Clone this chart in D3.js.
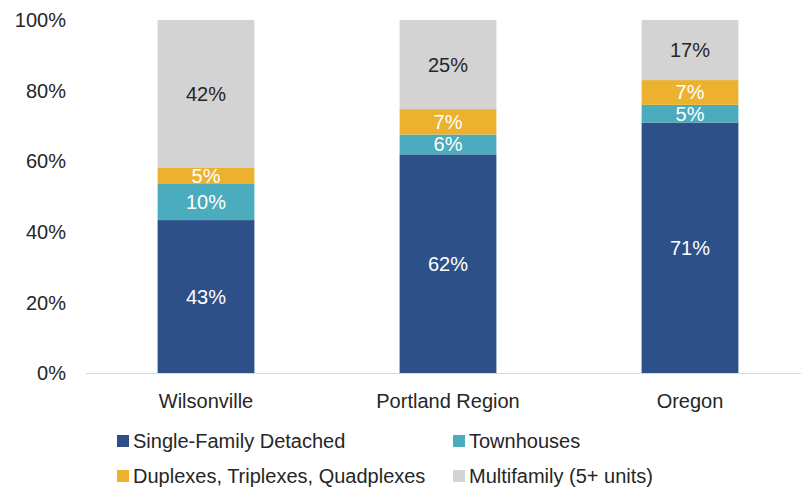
<!DOCTYPE html>
<html><head><meta charset="utf-8">
<script src="https://cdn.jsdelivr.net/npm/d3@7"></script>
<style>body{margin:0;background:#fff}svg{display:block;font-family:"Liberation Sans",Arial,sans-serif}</style>
</head><body><svg id="c" width="801" height="487"></svg>
<script>
const categories = ["Wilsonville", "Portland Region", "Oregon"];
const seriesNames = ["Single-Family Detached", "Townhouses", "Duplexes, Triplexes, Quadplexes", "Multifamily (5+ units)"];
const singleFamily = [43.4, 62.0, 71.0];
const townhouses = [10.2, 5.6, 5.0];
const plexes = [4.7, 7.2, 7.0];
const multifamily = [41.7, 25.2, 17.0];
const yTicks = [0, 20, 40, 60, 80, 100];
const colors = ["#2E5089", "#4BACBE", "#EBB12F", "#D3D3D3"];
const labelColors = ["#fff", "#fff", "#fff", "#262626"];

const svg = d3.select("#c");
const y = d3.scaleLinear().domain([0, 100]).range([373.5, 20]);
const x = d3.scaleBand().domain(categories).range([85, 811]).paddingInner(0.6).paddingOuter(0.3);

const rows = categories.map((c, i) => ({cat: c, s0: singleFamily[i], s1: townhouses[i], s2: plexes[i], s3: multifamily[i]}));
const stack = d3.stack().keys(["s0", "s1", "s2", "s3"])(rows);

// y axis labels
const yAxis = d3.axisLeft(y).tickValues(yTicks).tickFormat(d => d + "%").tickSize(0).tickPadding(0);
const ga = svg.append("g").attr("transform", "translate(66,0)").call(yAxis);
ga.select(".domain").remove();
ga.selectAll("text").attr("font-size", 20).attr("fill", "#262626").attr("font-family", "'Liberation Sans',Arial,sans-serif");

// bars
stack.forEach((layer, k) => {
  const g = svg.append("g");
  g.selectAll("rect").data(layer).join("rect")
    .attr("x", d => x(d.data.cat)).attr("width", x.bandwidth())
    .attr("y", d => y(d[1])).attr("height", d => y(d[0]) - y(d[1]))
    .attr("fill", colors[k]);
  g.selectAll("text").data(layer).join("text")
    .attr("x", d => x(d.data.cat) + x.bandwidth() / 2)
    .attr("y", d => (y(d[0]) + y(d[1])) / 2)
    .attr("dy", "0.35em").attr("text-anchor", "middle")
    .attr("font-size", 20).attr("fill", labelColors[k])
    .text(d => Math.round(d[1] - d[0]) + "%");
});

// x axis
const xAxis = d3.axisBottom(x).tickSize(0).tickPadding(20);
const gx = svg.append("g").attr("transform", "translate(0,373.5)").call(xAxis);
gx.select(".domain").attr("stroke", "#d9d9d9").attr("d", "M86,0H801");
gx.selectAll("text").attr("font-size", 20).attr("fill", "#262626").attr("font-family", "'Liberation Sans',Arial,sans-serif");

// legend
const legPos = [[117, 441], [453, 441], [117, 476], [453, 476]];
seriesNames.forEach((n, k) => {
  const g = svg.append("g").attr("transform", `translate(${legPos[k][0]},${legPos[k][1]})`);
  g.append("rect").attr("x", 0).attr("y", -6).attr("width", 12).attr("height", 12).attr("fill", colors[k]);
  g.append("text").attr("x", 16).attr("dy", "0.35em").attr("font-size", 20).attr("fill", "#262626").text(n);
});
</script></body></html>
